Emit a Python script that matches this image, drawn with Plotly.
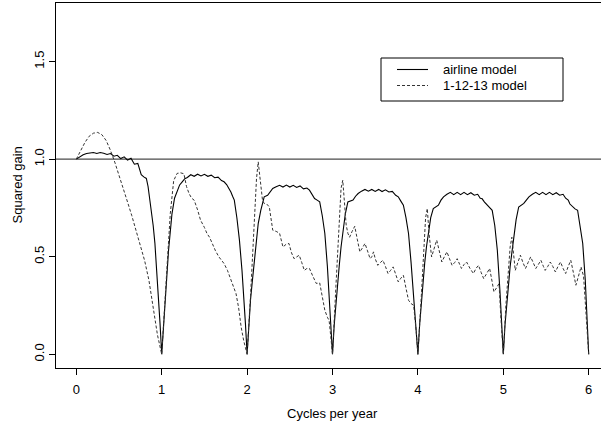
import plotly.graph_objects as go

# Squared gain of the seasonal adjustment filters, by frequency (cycles per year)
airline_x = [0.00, 0.04, 0.08, 0.12, 0.16, 0.20, 0.24, 0.28, 0.32, 0.36, 0.40, 0.44, 0.48,
             0.52, 0.56, 0.60, 0.64, 0.68, 0.72, 0.76, 0.79, 0.82, 0.84, 0.86, 0.88, 0.90,
             0.92, 0.94, 0.96, 0.98, 1.00,
             1.02, 1.04, 1.06, 1.08, 1.10, 1.12, 1.15, 1.18, 1.21, 1.24, 1.27, 1.30, 1.34,
             1.38, 1.42, 1.46, 1.50, 1.54, 1.58, 1.62, 1.66, 1.70, 1.73, 1.76, 1.79, 1.81,
             1.83, 1.85, 1.88, 1.91, 1.94, 1.96, 1.98, 2.00,
             2.02, 2.04, 2.06, 2.08, 2.10, 2.13, 2.16, 2.20, 2.24, 2.27, 2.30, 2.34, 2.38,
             2.42, 2.46, 2.50, 2.54, 2.58, 2.62, 2.66, 2.70, 2.73, 2.76, 2.79, 2.82, 2.85,
             2.88, 2.91, 2.94, 2.96, 2.98, 3.00,
             3.02, 3.05, 3.08, 3.10, 3.12, 3.15, 3.18, 3.21, 3.24, 3.27, 3.30, 3.34, 3.38,
             3.42, 3.46, 3.50, 3.54, 3.58, 3.62, 3.66, 3.70, 3.74, 3.77, 3.80, 3.83, 3.86,
             3.89, 3.92, 3.95, 3.98, 4.00,
             4.02, 4.05, 4.08, 4.10, 4.12, 4.15, 4.18, 4.21, 4.24, 4.27, 4.30, 4.34, 4.38,
             4.42, 4.46, 4.50, 4.54, 4.58, 4.62, 4.66, 4.70, 4.73, 4.75, 4.78, 4.81, 4.84,
             4.87, 4.90, 4.93, 4.96, 4.98, 5.00,
             5.02, 5.05, 5.08, 5.10, 5.12, 5.15, 5.18, 5.21, 5.24, 5.27, 5.30, 5.34, 5.38,
             5.42, 5.46, 5.50, 5.54, 5.58, 5.62, 5.66, 5.70, 5.73, 5.76, 5.78, 5.81, 5.84,
             5.87, 5.90, 5.93, 5.96, 5.98, 6.00]
airline_y = [1.000, 1.012, 1.022, 1.029, 1.032, 1.034, 1.029, 1.034, 1.030, 1.024, 1.029, 1.015, 1.020,
             1.003, 1.012, 0.995, 1.005, 0.974, 0.978, 0.920, 0.909, 0.901, 0.860, 0.800, 0.720, 0.660,
             0.570, 0.440, 0.320, 0.160, 0.000,
             0.120, 0.243, 0.400, 0.533, 0.640, 0.720, 0.800, 0.840, 0.868, 0.884, 0.900, 0.906, 0.920,
             0.912, 0.923, 0.914, 0.922, 0.912, 0.918, 0.905, 0.908, 0.890, 0.884, 0.870, 0.850, 0.832,
             0.810, 0.790, 0.700, 0.585, 0.430, 0.310, 0.160, 0.000,
             0.150, 0.280, 0.370, 0.448, 0.560, 0.670, 0.738, 0.807, 0.815, 0.835, 0.850, 0.858, 0.866,
             0.857, 0.867, 0.857, 0.866, 0.855, 0.863, 0.848, 0.852, 0.841, 0.820, 0.798, 0.790, 0.781,
             0.710, 0.619, 0.450, 0.277, 0.130, 0.000,
             0.150, 0.330, 0.460, 0.550, 0.619, 0.720, 0.781, 0.785, 0.790, 0.810, 0.824, 0.836, 0.845,
             0.836, 0.845, 0.835, 0.845, 0.834, 0.843, 0.832, 0.835, 0.815, 0.807, 0.785, 0.764, 0.700,
             0.619, 0.470, 0.277, 0.120, 0.000,
             0.150, 0.320, 0.470, 0.550, 0.619, 0.700, 0.747, 0.755, 0.764, 0.790, 0.807, 0.820, 0.830,
             0.818, 0.830, 0.818, 0.830, 0.818, 0.828, 0.815, 0.820, 0.800, 0.798, 0.780, 0.764, 0.750,
             0.738, 0.660, 0.533, 0.330, 0.170, 0.000,
             0.150, 0.320, 0.450, 0.520, 0.585, 0.690, 0.755, 0.765, 0.773, 0.790, 0.807, 0.820, 0.830,
             0.818, 0.830, 0.818, 0.830, 0.818, 0.828, 0.815, 0.820, 0.800, 0.790, 0.770, 0.755, 0.745,
             0.738, 0.660, 0.568, 0.380, 0.190, 0.000]

model_x = [0.00, 0.05, 0.10, 0.15, 0.20, 0.25, 0.30, 0.35, 0.40, 0.45, 0.50, 0.55, 0.60, 0.65,
           0.70, 0.75, 0.80, 0.85, 0.90, 0.95, 1.00,
           1.03, 1.06, 1.10, 1.14, 1.18, 1.22, 1.26, 1.29, 1.32, 1.35, 1.38, 1.42, 1.455, 1.50,
           1.53, 1.56, 1.59, 1.63, 1.67, 1.70, 1.73, 1.77, 1.81, 1.84, 1.87, 1.90, 1.93, 1.96, 2.00,
           2.04, 2.08, 2.11, 2.13, 2.15, 2.18, 2.20, 2.23, 2.26, 2.28, 2.30, 2.34, 2.38, 2.42, 2.46,
           2.49, 2.52, 2.55, 2.58, 2.61, 2.64, 2.67, 2.70, 2.73, 2.77, 2.81, 2.85, 2.88, 2.91, 2.94,
           2.96, 2.98, 3.00,
           3.04, 3.08, 3.10, 3.12, 3.14, 3.16, 3.18, 3.20, 3.23, 3.26, 3.29, 3.32, 3.35, 3.38, 3.41,
           3.44, 3.46, 3.48, 3.50, 3.53, 3.56, 3.59, 3.62, 3.65, 3.68, 3.71, 3.74, 3.77, 3.80, 3.83,
           3.86, 3.89, 3.92, 3.95, 3.98, 4.00,
           4.04, 4.07, 4.09, 4.11, 4.13, 4.16, 4.19, 4.22, 4.25, 4.28, 4.31, 4.34, 4.37, 4.40, 4.43,
           4.46, 4.49, 4.51, 4.54, 4.57, 4.61, 4.65, 4.68, 4.71, 4.74, 4.77, 4.80, 4.84, 4.87, 4.89,
           4.92, 4.95, 4.97, 5.00,
           5.03, 5.06, 5.08, 5.10, 5.12, 5.14, 5.17, 5.20, 5.23, 5.26, 5.29, 5.32, 5.35, 5.38, 5.41,
           5.44, 5.47, 5.49, 5.52, 5.55, 5.58, 5.61, 5.64, 5.67, 5.70, 5.73, 5.76, 5.79, 5.82, 5.85,
           5.88, 5.91, 5.94, 5.96, 5.98, 6.00]
model_y = [1.000, 1.045, 1.085, 1.117, 1.133, 1.137, 1.125, 1.095, 1.045, 0.985, 0.920, 0.850, 0.780, 0.710,
           0.635, 0.565, 0.480, 0.380, 0.250, 0.100, 0.000,
           0.200, 0.450, 0.720, 0.890, 0.927, 0.930, 0.925, 0.860, 0.824, 0.800, 0.790, 0.740, 0.687, 0.650,
           0.619, 0.600, 0.568, 0.530, 0.499, 0.480, 0.465, 0.430, 0.380, 0.350, 0.311, 0.240, 0.140, 0.070, 0.000,
           0.300, 0.687, 0.900, 0.986, 0.900, 0.790, 0.773, 0.770, 0.755, 0.700, 0.636, 0.630, 0.620, 0.550, 0.565,
           0.568, 0.520, 0.490, 0.500, 0.508, 0.470, 0.430, 0.440, 0.440, 0.400, 0.363, 0.366, 0.300, 0.226, 0.190,
           0.174, 0.090, 0.000,
           0.350, 0.700, 0.850, 0.892, 0.780, 0.662, 0.620, 0.600, 0.630, 0.656, 0.590, 0.525, 0.545, 0.568, 0.530,
           0.490, 0.500, 0.525, 0.490, 0.456, 0.470, 0.482, 0.450, 0.414, 0.430, 0.448, 0.410, 0.371, 0.390, 0.405,
           0.340, 0.277, 0.260, 0.251, 0.120, 0.000,
           0.300, 0.550, 0.700, 0.747, 0.620, 0.499, 0.540, 0.585, 0.530, 0.473, 0.500, 0.525, 0.490, 0.456, 0.470,
           0.490, 0.460, 0.440, 0.460, 0.473, 0.440, 0.414, 0.440, 0.456, 0.420, 0.388, 0.410, 0.440, 0.370, 0.320,
           0.340, 0.363, 0.200, 0.000,
           0.250, 0.448, 0.550, 0.600, 0.500, 0.430, 0.470, 0.508, 0.470, 0.440, 0.470, 0.499, 0.470, 0.440, 0.460,
           0.482, 0.450, 0.430, 0.450, 0.473, 0.450, 0.422, 0.450, 0.473, 0.440, 0.414, 0.450, 0.482, 0.420, 0.354,
           0.400, 0.448, 0.400, 0.280, 0.150, 0.000]

legend_labels = ["airline model", "1-12-13 model"]
x_title = "Cycles per year"
y_title = "Squared gain"
y_ticks = [0.0, 0.5, 1.0, 1.5]
x_ticks = [0, 1, 2, 3, 4, 5, 6]

FONT = "Liberation Sans, Arial, Helvetica, sans-serif"
FS = 13
W, H = 601, 427
ML, MR, MT, MB = 56, 0, 3, 59


def px_x(p):
    return (p - ML) / (W - ML - MR)


def px_y(p):
    return (H - MB - p) / (H - MT - MB)


fig = go.Figure()

fig.add_hline(y=1.0, line=dict(color="#4a4a4a", width=1.3), layer="below")

fig.add_trace(go.Scatter(x=airline_x, y=airline_y, mode="lines", name=legend_labels[0],
                         line=dict(color="black", width=1.1), showlegend=False))
fig.add_trace(go.Scatter(x=model_x, y=model_y, mode="lines", name=legend_labels[1],
                         line=dict(color="#333333", width=1.0, dash="3px,2px"), showlegend=False))

# Legend box drawn by hand, R style
fig.add_shape(type="rect", xref="paper", yref="paper",
              x0=px_x(381), x1=px_x(563), y0=px_y(101), y1=px_y(58),
              line=dict(color="black", width=1), fillcolor="white", layer="above")
rows = [(69.5, dict(color="black", width=1.1)),
        (85.5, dict(color="#333333", width=1.0, dash="3px,2px"))]
for (yy, ln), lab in zip(rows, legend_labels):
    fig.add_shape(type="line", xref="paper", yref="paper",
                  x0=px_x(397), x1=px_x(428), y0=px_y(yy), y1=px_y(yy), line=ln)
    fig.add_annotation(xref="paper", yref="paper", x=px_x(442), y=px_y(yy),
                       text=lab, showarrow=False, xanchor="left", yanchor="middle",
                       borderpad=0, font=dict(family=FONT, size=FS, color="black"))

# Axis titles, centred on the full plotting region
fig.add_annotation(xref="x", yref="paper", x=3.0, y=px_y(413), text=x_title,
                   showarrow=False, xanchor="center", yanchor="middle",
                   font=dict(family=FONT, size=FS, color="black"))
fig.add_annotation(xref="paper", yref="paper", x=px_x(17), y=px_y(185.5), text=y_title,
                   textangle=-90, showarrow=False, xanchor="center", yanchor="middle",
                   font=dict(family=FONT, size=FS, color="black"))

fig.update_layout(
    width=W, height=H,
    margin=dict(l=ML, r=MR, t=MT, b=MB, pad=0),
    paper_bgcolor="white", plot_bgcolor="white",
    font=dict(family=FONT, size=FS, color="black"),
    showlegend=False,
)
fig.update_xaxes(
    range=[-0.238, 6.144], tickvals=x_ticks, ticktext=[str(t) for t in x_ticks],
    showgrid=False, zeroline=False, showline=True, linecolor="black", linewidth=1,
    mirror=True, ticks="outside", ticklen=6, tickcolor="black", ticklabelstandoff=3,
    tickfont=dict(family=FONT, size=FS),
)
fig.update_yaxes(
    range=[-0.07, 1.80], tickvals=y_ticks, ticktext=["%.1f" % t for t in y_ticks],
    tickangle=-90, showgrid=False, zeroline=False, showline=True, linecolor="black",
    linewidth=1, mirror=True, ticks="outside", ticklen=6, tickcolor="black",
    tickfont=dict(family=FONT, size=FS),
)

fig.write_html("out.html")
